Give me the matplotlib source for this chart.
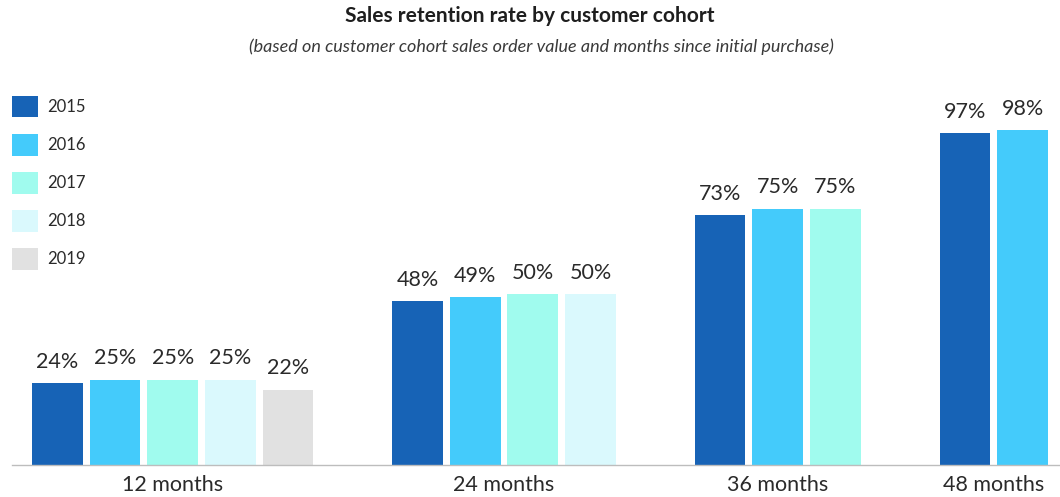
import matplotlib.pyplot as plt
from matplotlib.patches import Patch

# data
months = ['12 months', '24 months', '36 months', '48 months']
cohorts = ['2015', '2016', '2017', '2018', '2019']
v2015 = [24, 48, 73, 97]
v2016 = [25, 49, 75, 98]
v2017 = [25, 50, 75]
v2018 = [25, 50]
v2019 = [22]
values = [v2015, v2016, v2017, v2018, v2019]
colors = ['#1763B6', '#44CBFB', '#A0FBEE', '#DAF9FD', '#E1E1E1']

plt.rcParams['font.family'] = ['Lato', 'DejaVu Sans']
txt = '#2A2A2A'

W, H = 1060, 497
fig = plt.figure(figsize=(W / 100, H / 100), dpi=100)
ax = fig.add_axes([12 / W, 32 / H, 1 - 12 / W, 365 / H])

# lay out the groups: bars next to each other, wider gap between groups
group_gap = 2.25
start = 0.0
centers = []
for i in range(len(months)):
    n = sum(1 for v in values if len(v) > i)
    xs = [start + j for j in range(n)]
    for j, x in enumerate(xs):
        val = values[j][i]
        ax.bar(x, val, width=0.88, color=colors[j], zorder=2)
        ax.annotate(f'{val}%', (x, val), xytext=(0, 11), textcoords='offset points',
                    ha='center', va='baseline', fontsize=15.5, color=txt)
    centers.append((xs[0] + xs[-1]) / 2)
    start = xs[-1] + group_gap

ax.set_xlim(-0.79, 17.4)
ax.set_ylim(0, 365 / 3.42)
ax.set_xticks(centers)
ax.set_xticklabels(months, fontsize=15.5, color=txt)
ax.tick_params(axis='x', length=0, pad=7)
ax.set_yticks([])
for s in ['top', 'right', 'left']:
    ax.spines[s].set_visible(False)
ax.spines['bottom'].set_color('#BDBDBD')
ax.spines['bottom'].set_linewidth(1.0)

handles = [Patch(facecolor=c, edgecolor='none', label=l) for c, l in zip(colors, cohorts)]
fig.legend(handles=handles, loc='upper left', bbox_to_anchor=(12 / W, 1 - 96 / H),
           bbox_transform=fig.transFigure, frameon=False, fontsize=12,
           handlelength=1.55, handleheight=1.6, handletextpad=0.55,
           labelspacing=1.0, borderpad=0, borderaxespad=0, labelcolor=txt)

fig.text(530 / W, 1 - 16 / H, 'Sales retention rate by customer cohort',
         ha='center', va='center', fontsize=15, fontweight='bold', color='#1E1E1E')
fig.text(541 / W, 1 - 47 / H,
         '(based on customer cohort sales order value and months since initial purchase)',
         ha='center', va='center', fontsize=13, style='italic', color='#3A3A3A')

fig.savefig('out.png', dpi=100)
